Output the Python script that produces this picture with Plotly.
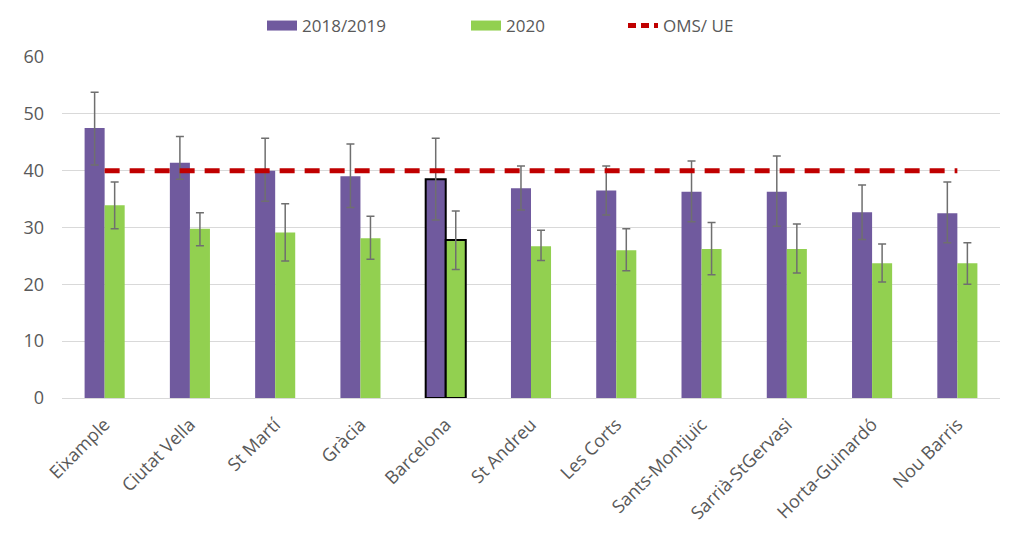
import plotly.graph_objects as go

# districts (x axis)
districts = ["Eixample", "Ciutat Vella", "St Martí", "Gràcia", "Barcelona", "St Andreu",
             "Les Corts", "Sants-Montjuïc", "Sarrià-StGervasi", "Horta-Guinardó", "Nou Barris"]

# 2018/2019 mean + interval
v_1819 = [47.5, 41.4, 40.0, 39.0, 38.5, 36.9, 36.5, 36.3, 36.3, 32.7, 32.5]
hi_1819 = [53.8, 46.0, 45.7, 44.7, 45.7, 40.8, 40.8, 41.7, 42.6, 37.5, 38.0]
lo_1819 = [41.0, 38.5, 34.6, 33.5, 31.3, 33.1, 32.2, 31.0, 30.2, 27.9, 27.3]

# 2020 mean + interval
v_2020 = [33.9, 29.8, 29.1, 28.1, 27.8, 26.7, 26.0, 26.2, 26.2, 23.7, 23.7]
hi_2020 = [38.0, 32.6, 34.2, 32.0, 32.9, 29.5, 29.8, 30.9, 30.6, 27.1, 27.3]
lo_2020 = [29.8, 26.8, 24.1, 24.4, 22.6, 24.2, 22.4, 21.7, 22.0, 20.4, 20.0]

# WHO / EU limit
limit = 40

PURPLE = "#705A9E"
GREEN = "#92D050"
RED = "#C00000"
GREY_TXT = "#595959"
ERR = "#6F6F6F"

# page body adds an 8px margin, so the figure is a bit smaller than the window
W, H = 1001, 544

# black outline only for the city total
outline = [2 if d == "Barcelona" else 0 for d in districts]

fig = go.Figure()

fig.add_bar(
    x=districts, y=v_1819, name="2018/2019", marker_color=PURPLE, showlegend=False,
    marker_line=dict(color="black", width=outline),
    error_y=dict(type="data", symmetric=False,
                 array=[h - v for h, v in zip(hi_1819, v_1819)],
                 arrayminus=[v - l for v, l in zip(v_1819, lo_1819)],
                 color=ERR, thickness=1.5, width=4),
)
fig.add_bar(
    x=districts, y=v_2020, name="2020", marker_color=GREEN, showlegend=False,
    marker_line=dict(color="black", width=outline),
    error_y=dict(type="data", symmetric=False,
                 array=[h - v for h, v in zip(hi_2020, v_2020)],
                 arrayminus=[v - l for v, l in zip(v_2020, lo_2020)],
                 color=ERR, thickness=1.5, width=4),
)
fig.add_scatter(
    x=districts, y=[limit] * len(districts), mode="lines", name="OMS/ UE",
    line=dict(color=RED, width=5, dash="15px,10px"), showlegend=False,
)

# legend keys, one legend box each so they can sit where the original has them
fig.add_scatter(x=[None], y=[None], mode="lines", name="2018/2019", legend="legend",
                line=dict(color=PURPLE, width=11))
fig.add_scatter(x=[None], y=[None], mode="lines", name="2020", legend="legend2",
                line=dict(color=GREEN, width=11))
fig.add_scatter(x=[None], y=[None], mode="lines", name="OMS/ UE", legend="legend3",
                line=dict(color=RED, width=5, dash="8px,5px"))

leg = dict(orientation="h", xref="container", yref="container", xanchor="left",
           y=1, yanchor="top", font=dict(size=17, color=GREY_TXT),
           bgcolor="rgba(0,0,0,0)", borderwidth=0)

fig.update_layout(
    width=W, height=H,
    margin=dict(l=54, r=9, t=49, b=154),
    paper_bgcolor="white", plot_bgcolor="white",
    barmode="group", bargap=0.53, bargroupgap=0,
    font=dict(family="Open Sans", color=GREY_TXT, size=16),
    legend=dict(leg, x=(302 - 48) / W),
    legend2=dict(leg, x=(506 - 48) / W),
    legend3=dict(leg, x=(663 - 48) / W),
)
fig.update_yaxes(range=[0, 60], dtick=10, showgrid=True, gridcolor="#D9D9D9", gridwidth=1,
                 zeroline=False, showline=False, ticks="", ticklabelstandoff=17,
                 automargin=False, tickfont=dict(size=18, color=GREY_TXT))
fig.update_xaxes(showline=True, linecolor="#D9D9D9", linewidth=1, tickangle=-45,
                 ticks="", ticklabelstandoff=8, automargin=False,
                 tickfont=dict(size=18, color=GREY_TXT))

fig.write_html("out.html")
